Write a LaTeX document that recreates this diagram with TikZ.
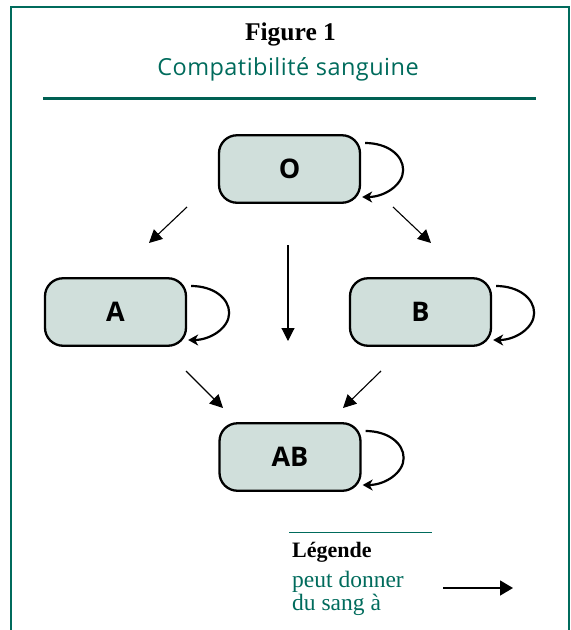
\documentclass[tikz,border=0pt]{standalone}
\usepackage{fontspec}
\setmainfont{Liberation Serif}
\newfontfamily\figsans{Open Sans}
\newfontfamily\figsanswide{Open Sans}[LetterSpace=2]
\usetikzlibrary{arrows.meta}
\definecolor{figteal}{RGB}{0,107,92}
\definecolor{boxfill}{RGB}{208,223,219}

\begin{document}
\begin{tikzpicture}[x=1pt,y=-1pt,
  bloodbox/.style={draw=black,line width=2.3pt,fill=boxfill,rounded corners=18pt,
    minimum width=141pt,minimum height=67.5pt,inner sep=0pt,
    font=\figsans\bfseries\fontsize{27}{32}\selectfont},
  gives/.style={line width=1.1pt,-{Triangle[length=13pt,width=13pt]}},
  selfgives/.style={line width=2.2pt,-{Stealth[length=10pt,width=11pt,inset=3pt]}},
  txt/.style={inner sep=0pt}]
 \useasboundingbox (0,0) rectangle (571,630);
 % frame and title
 \draw[figteal,line width=2pt] (10.7,632) -- (10.7,7) -- (569,7) -- (569,632);
 \node[txt,anchor=base,font=\bfseries\fontsize{25.5}{30}\selectfont] (title) at (290.5,40.5) {Figure 1};
 \node[txt,anchor=base,text=figteal,font=\figsanswide\fontsize{23.5}{28}\selectfont] (subtitle) at (288,75) {Compatibilité sanguine};
 \draw[figteal!90!black,line width=3pt] (43,98.7) -- (536,98.7);

 % blood groups
 \node[bloodbox] (O) at (289.5,169) {O};
 \node[bloodbox] (A) at (115.5,312) {A};
 \node[bloodbox] (B) at (420.5,312) {B};
 \node[bloodbox] (AB) at (290,457) {AB};

 % self loops
 \draw[selfgives] ([shift={(4,-26)}]O.east) .. controls +(22,0) and +(0,-15) .. ([shift={(42,1)}]O.east) .. controls +(0,15) and +(22,0) .. ([shift={(1,28)}]O.east);
 \draw[selfgives] ([shift={(4,-26)}]A.east) .. controls +(22,0) and +(0,-15) .. ([shift={(42,1)}]A.east) .. controls +(0,15) and +(22,0) .. ([shift={(1,28)}]A.east);
 \draw[selfgives] ([shift={(4,-26)}]B.east) .. controls +(22,0) and +(0,-15) .. ([shift={(42,1)}]B.east) .. controls +(0,15) and +(22,0) .. ([shift={(1,28)}]B.east);
 \draw[selfgives] ([shift={(4,-26)}]AB.east) .. controls +(22,0) and +(0,-15) .. ([shift={(42,1)}]AB.east) .. controls +(0,15) and +(22,0) .. ([shift={(1,28)}]AB.east);

 % donor arrows
 \coordinate (oa1) at (187,207);
 \coordinate (oa2) at (149,243);
 \coordinate (ob1) at (393,207);
 \coordinate (ob2) at (431,243);
 \coordinate (oab1) at (288,245);
 \coordinate (oab2) at (288,341);
 \coordinate (aab1) at (186,371);
 \coordinate (aab2) at (223,408);
 \coordinate (bab1) at (381,371);
 \coordinate (bab2) at (343,408);
 \draw[gives] (oa1) -- (oa2);
 \draw[gives] (ob1) -- (ob2);
 \draw[gives] (oab1) -- (oab2);
 \draw[gives] (aab1) -- (aab2);
 \draw[gives] (bab1) -- (bab2);

 % legend
 \draw[figteal,line width=1pt] (289,532) -- (432,532);
 \node[txt,anchor=base west,font=\bfseries\fontsize{22}{26}\selectfont] (legend) at (292,557) {Légende};
 \node[txt,anchor=base west,text=figteal,font=\fontsize{23.5}{28}\selectfont] (leg1) at (292,587) {peut donner};
 \node[txt,anchor=base west,text=figteal,font=\fontsize{23.5}{28}\selectfont] (leg2) at (292,610) {du sang à};
 \coordinate (leg3) at (443,588);
 \coordinate (leg4) at (513,588);
 \draw[line width=1.5pt,-{Triangle[length=13pt,width=15pt]}] (leg3) -- (leg4);
\end{tikzpicture}
\end{document}
